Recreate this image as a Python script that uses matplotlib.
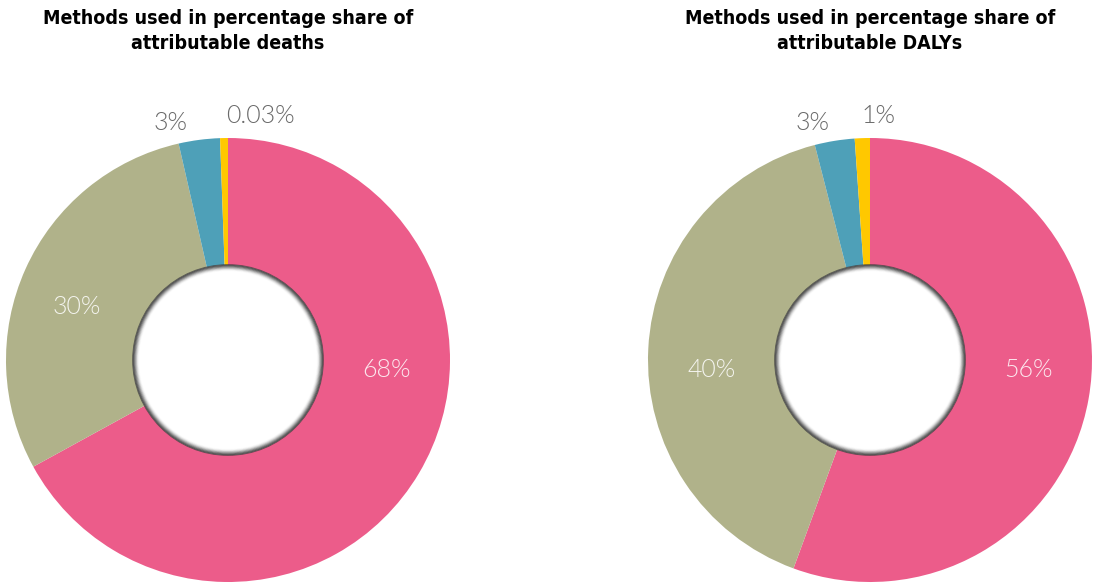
import numpy as np
import matplotlib.pyplot as plt
from matplotlib.patches import Circle

# Data ======================================================
categories = ['Method A', 'Method B', 'Method C', 'Method D']
deaths_share = [67.0, 29.4, 3.0, 0.57]      # drawn slice sizes (%)
deaths_labels = ['68%', '30%', '3%', '0.03%']
dalys_share = [55.6, 40.4, 2.9, 1.1]
dalys_labels = ['56%', '40%', '3%', '1%']
titles = ['Methods used in percentage share of\nattributable deaths',
          'Methods used in percentage share of\nattributable DALYs']

# Style =====================================================
colors = ['#EC5C8A', '#B0B28A', '#4EA0B8', '#FFC800']
hole = 0.428
# label placement (angle in deg, radius as fraction of pie radius) per panel
label_pos = [
    [(-3.6, 0.715), (160.7, 0.72), (103.7, 1.10), (82.5, 1.11)],
    [(-3.6, 0.715), (183.6, 0.715), (103.5, 1.10), (88.0, 1.10)],
]
inside = [True, True, False, False]

fig = plt.figure(figsize=(10.94, 5.86), dpi=100)
axes_rects = [[6/1094, 4/586, 444/1094, 444/586],
              [648/1094, 4/586, 444/1094, 444/586]]
title_x = [228/1094, 870/1094]

for k, (vals, labs) in enumerate([(deaths_share, deaths_labels),
                                  (dalys_share, dalys_labels)]):
    ax = fig.add_axes(axes_rects[k])
    ax.pie(vals, colors=colors, startangle=90, counterclock=False,
           radius=1.0, wedgeprops=dict(width=1 - hole, linewidth=0))
    # hole with inner shadow
    ax.add_patch(Circle((0, 0), hole, facecolor='white', edgecolor='none', zorder=3))
    for i in range(8):
        r = hole - i * 0.0035
        ax.add_patch(Circle((0, 0), r, facecolor='none', edgecolor='#404040',
                            linewidth=1.2, alpha=0.75 * (1 - i / 8) ** 2, zorder=4))
    for j, lab in enumerate(labs):
        ang, rad = label_pos[k][j]
        x = rad * np.cos(np.radians(ang))
        y = rad * np.sin(np.radians(ang))
        if inside[j]:
            ax.text(x, y, lab, ha='center', va='center', fontsize=18,
                    family='Lato', fontweight=300, color='white', alpha=0.85)
        else:
            ax.text(x, y, lab, ha='center', va='center', fontsize=18,
                    family='Lato', fontweight=300, color='#6a6a6a')
    ax.set_xlim(-1, 1)
    ax.set_ylim(-1, 1)
    ax.set_aspect('equal')
    ax.axis('off')
    fig.text(title_x[k], 1 - 31/586, titles[k], ha='center', va='center',
             fontsize=14, fontweight='bold', family='DejaVu Sans',
             fontstretch='condensed', linespacing=1.35)

plt.savefig('out.png', dpi=100)
